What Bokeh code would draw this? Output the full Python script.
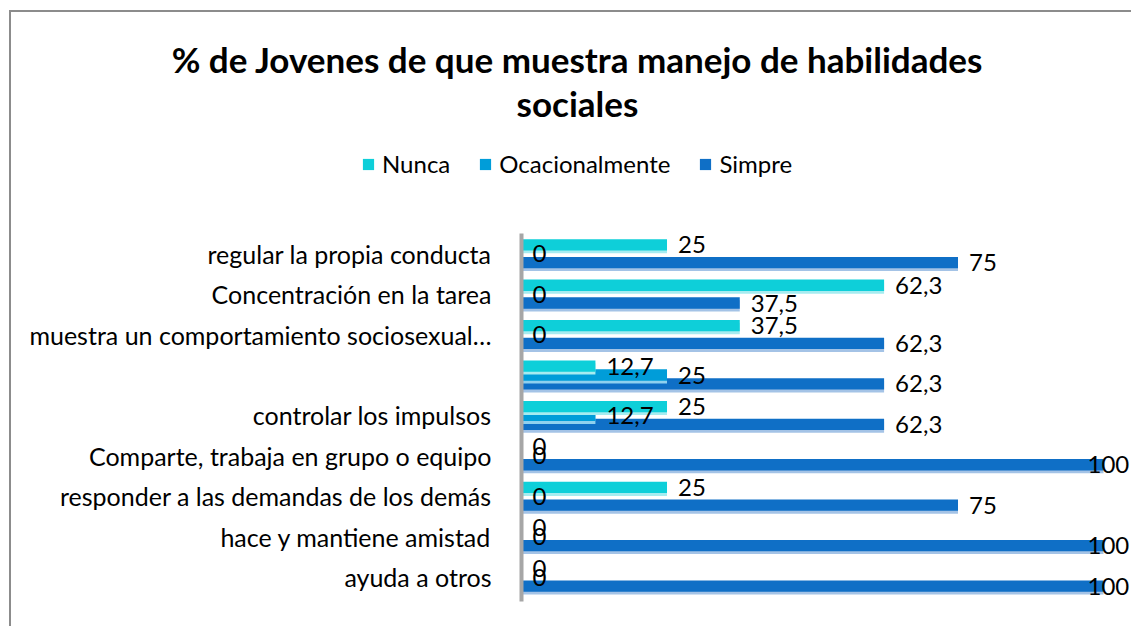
from bokeh.plotting import figure
from bokeh.models import FactorRange, Range1d, ColumnDataSource, Legend, LegendItem, Title
from bokeh.transform import dodge
from bokeh.core.properties import value
from bokeh.embed import file_html
from bokeh.resources import INLINE

# categories as listed top to bottom in the chart
categories = [
    "regular la propia conducta",
    "Concentración en la tarea",
    "muestra un comportamiento sociosexual…",
    " ",
    "controlar los impulsos",
    "Comparte, trabaja en grupo o equipo",
    "responder a las demandas de los demás",
    "hace y mantiene amistad",
    "ayuda a otros",
]
nunca = [25, 62.3, 37.5, 12.7, 25, 0, 25, 0, 0]
ocacionalmente = [0, 0, 0, 25, 12.7, 0, 0, 0, 0]
simpre = [75, 37.5, 62.3, 62.3, 62.3, 100, 75, 100, 100]
series_names = ["Nunca", "Ocacionalmente", "Simpre"]
title_line1 = "% de Jovenes de que muestra manejo de habilidades"
title_line2 = "sociales"

colors = {"Nunca": "#0ECFD9", "Ocacionalmente": "#009DD9", "Simpre": "#0F6FC6"}
light = {"Nunca": "#A6ECF0", "Ocacionalmente": "#8FD0EE", "Simpre": "#A4C3E6"}
offsets = {"Nunca": 0.22, "Ocacionalmente": 0.0, "Simpre": -0.22}
series_vals = {"Nunca": nunca, "Ocacionalmente": ocacionalmente, "Simpre": simpre}


def fmt(v):
    return f"{v:g}".replace(".", ",")


FONT = "Lato"
# two empty spacer factors on top leave room for the legend inside the frame
spacers = ["\u2002", "\u2003"]
factors = categories[::-1] + spacers

p = figure(
    width=1131, height=626,
    y_range=FactorRange(factors=factors, range_padding=0.72, range_padding_units="absolute"),
    x_range=Range1d(-85.57, 104.81),
    output_backend="svg", toolbar_location=None,
    min_border_left=23, min_border_right=0, min_border_bottom=0, min_border_top=123,
    border_fill_color=None, background_fill_color=None, outline_line_color=None,
)
p.styles = {"box-shadow": "inset 9px 10px 0 0 #ffffff, inset 11px 12px 0 0 #8c8c8c"}

bar_h = 0.28
renderers = {}
sources = {}
for name in ["Simpre", "Ocacionalmente", "Nunca"]:
    vals = series_vals[name]
    src = ColumnDataSource(dict(
        cat=categories,
        val=vals,
        label=[fmt(v) for v in vals],
        xoff=[11 if v < 100 else -16 for v in vals],
    ))
    sources[name] = src
    off = offsets[name]
    p.hbar(y=dodge("cat", off - 0.07, range=p.y_range), right="val", left=0, height=bar_h,
           fill_color=light[name], line_color=None, source=src)
    r = p.hbar(y=dodge("cat", off, range=p.y_range), right="val", left=0, height=bar_h,
               fill_color=colors[name], line_color=None, source=src)
    renderers[name] = r

for name in ["Simpre", "Ocacionalmente", "Nunca"]:
    p.text(x="val", y=dodge("cat", offsets[name], range=p.y_range), text="label",
           x_offset="xoff", text_font=value(FONT), text_font_size="24px",
           text_baseline="middle", text_align="left", text_color="#000000",
           source=sources[name])

legend = Legend(
    items=[LegendItem(label=n, renderers=[renderers[n]]) for n in series_names],
    location=(338, 448), orientation="horizontal",
    label_text_font=FONT, label_text_font_size="24px", label_text_color="#000000",
    glyph_width=14, glyph_height=14, label_standoff=7, spacing=28,
    padding=0, margin=0, border_line_color=None, background_fill_alpha=0,
)
p.add_layout(legend)

title_style = dict(text_font=FONT, text_font_style="bold", text_font_size="35px",
                   align="center", text_color="#000000", standoff=0)
p.add_layout(Title(text=title_line2, **title_style), "above")
p.title.text = title_line1
for k, v in title_style.items():
    setattr(p.title, k, v)

p.xaxis.visible = False
p.grid.visible = False
yax = p.yaxis[0]
yax.fixed_location = 0
yax.bounds = (-0.1, 9)
yax.major_label_text_font = FONT
yax.major_label_text_font_size = "25px"
yax.major_label_text_color = "#000000"
yax.major_tick_line_color = None
yax.minor_tick_line_color = None
yax.major_tick_out = 0
yax.axis_line_color = "#A6A6A6"
yax.axis_line_width = 4
yax.major_label_standoff = 30
yax.major_label_overrides = {s: "" for s in spacers}

open("out.html", "w").write(file_html(p, INLINE))
